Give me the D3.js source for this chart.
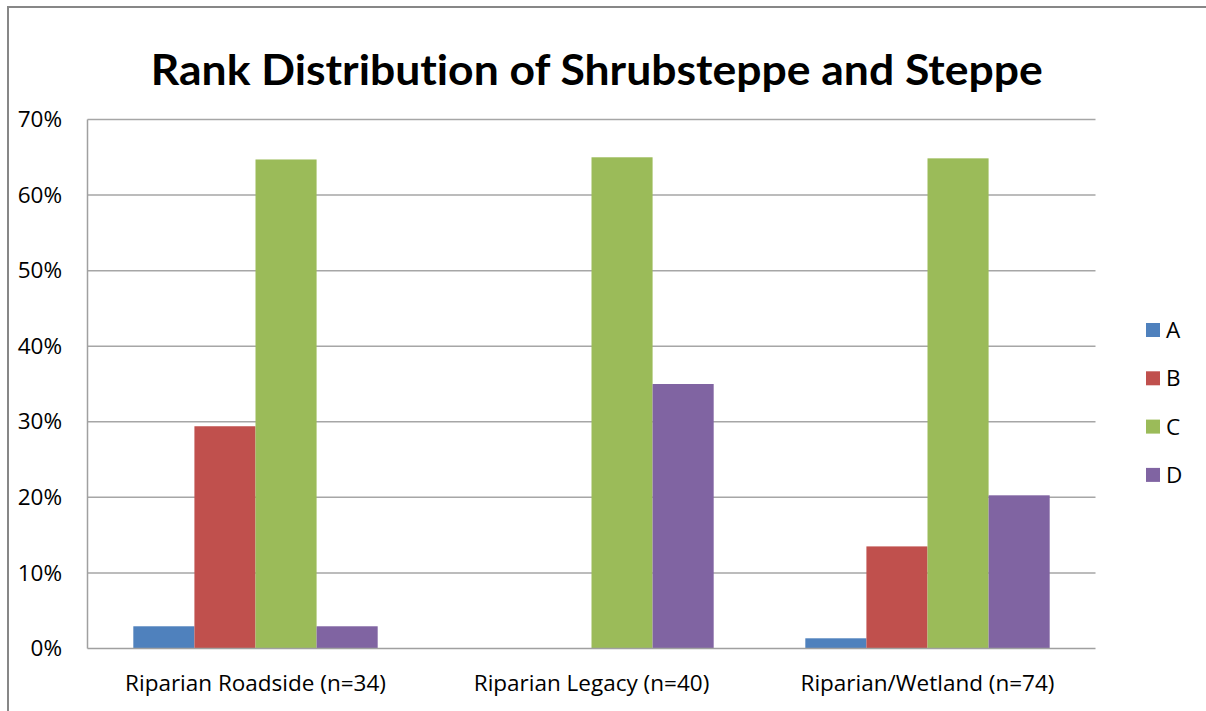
<!DOCTYPE html>
<html>
<head>
<meta charset="utf-8">
<script src="https://cdn.jsdelivr.net/npm/d3@7"></script>
<style>
  html, body { margin: 0; padding: 0; background: #fff; }
  svg text { font-family: "Open Sans", Lato, sans-serif; fill: #000; font-variant-ligatures: none; }
</style>
</head>
<body>
<svg id="chart" width="1206" height="711"></svg>
<script>
// Rank distribution of shrubsteppe and steppe sites, share of plots per rank
const categories = ["Riparian Roadside (n=34)", "Riparian Legacy (n=40)", "Riparian/Wetland (n=74)"];
const seriesNames = ["A", "B", "C", "D"];
const seriesColors = ["#4F81BD", "#C0504D", "#9BBB59", "#8064A2"];
const valuesA = [0.0294, 0.0, 0.0135];
const valuesB = [0.2941, 0.0, 0.1351];
const valuesC = [0.6471, 0.65, 0.6486];
const valuesD = [0.0294, 0.35, 0.2027];
const yTicks = [0, 0.1, 0.2, 0.3, 0.4, 0.5, 0.6, 0.7];
const titleText = "Rank Distribution of Shrubsteppe and Steppe";

const seriesValues = [valuesA, valuesB, valuesC, valuesD];

const svg = d3.select("#chart");
const plot = { left: 87.5, right: 1095.5, top: 119.5, bottom: 648.5 };
const labelFont = "\"Open Sans\", sans-serif";
const labelSize = "22.5px";

// chart frame
svg.append("rect")
  .attr("x", 8).attr("y", 7).attr("width", 1206).attr("height", 720)
  .attr("fill", "none").attr("stroke", "#878787").attr("stroke-width", 2);

// title
svg.append("text")
  .attr("x", (150.5 + 1043) / 2).attr("y", 85)
  .attr("text-anchor", "middle")
  .style("font-family", "Lato, sans-serif")
  .style("font-size", "42px").style("font-weight", "bold")
  .attr("textLength", 892).attr("lengthAdjust", "spacingAndGlyphs")
  .text(titleText);

const x0 = d3.scaleBand().domain(categories).range([plot.left, plot.right]).paddingInner(0).paddingOuter(0);
// 150% gap between clusters: four bars + 1.5 bar widths per band
const barW = x0.bandwidth() / 5.5;
const x1 = d3.scaleBand().domain(seriesNames)
  .range([0.75 * barW, 0.75 * barW + 4 * barW]).padding(0);
const y = d3.scaleLinear().domain([0, 0.7]).range([plot.bottom, plot.top]);

// horizontal gridlines
svg.append("g").selectAll("line").data(yTicks.filter(d => d > 0)).join("line")
  .attr("x1", plot.left).attr("x2", plot.right)
  .attr("y1", d => y(d)).attr("y2", d => y(d))
  .attr("stroke", "#A6A6A6").attr("stroke-width", 1.5);

// bars
const groups = svg.append("g").selectAll("g").data(categories).join("g")
  .attr("transform", c => `translate(${x0(c)},0)`);
groups.selectAll("rect")
  .data((c, i) => seriesNames.map((s, k) => ({ s, k, v: seriesValues[k][i] })))
  .join("rect")
  .attr("x", d => x1(d.s))
  .attr("width", x1.bandwidth())
  .attr("y", d => y(d.v))
  .attr("height", d => y(0) - y(d.v))
  .attr("fill", d => seriesColors[d.k]);

// axes lines
svg.append("line")
  .attr("x1", plot.left).attr("x2", plot.left).attr("y1", plot.top).attr("y2", plot.bottom)
  .attr("stroke", "#A0A0A0").attr("stroke-width", 1.5);
svg.append("line")
  .attr("x1", plot.left).attr("x2", plot.right).attr("y1", plot.bottom).attr("y2", plot.bottom)
  .attr("stroke", "#A0A0A0").attr("stroke-width", 1.5);

// y tick labels
const yAxis = d3.axisLeft(y).tickValues(yTicks).tickFormat(d3.format(".0%")).tickSize(0).tickPadding(0);
const yg = svg.append("g").attr("transform", "translate(62,0)").call(yAxis);
yg.select(".domain").remove();
yg.selectAll("text").style("font-size", labelSize).style("font-family", labelFont).attr("fill", "#000");

// x category labels
const xAxis = d3.axisBottom(x0).tickSize(0).tickPadding(0);
const xg = svg.append("g").attr("transform", `translate(0,${plot.bottom})`).call(xAxis);
xg.select(".domain").remove();
xg.selectAll("text").attr("dy", null).attr("y", 42)
  .style("font-size", labelSize).style("font-family", labelFont).attr("fill", "#000");

// legend
const legend = svg.append("g").selectAll("g").data(seriesNames).join("g")
  .attr("transform", (d, i) => `translate(1146,${330 + i * 48.3})`);
legend.append("rect").attr("x", 0).attr("y", -7).attr("width", 14).attr("height", 14)
  .attr("fill", (d, i) => seriesColors[i]);
legend.append("text").attr("x", 20).attr("y", 8)
  .style("font-size", labelSize).style("font-family", labelFont).text(d => d);
</script>
</body>
</html>
